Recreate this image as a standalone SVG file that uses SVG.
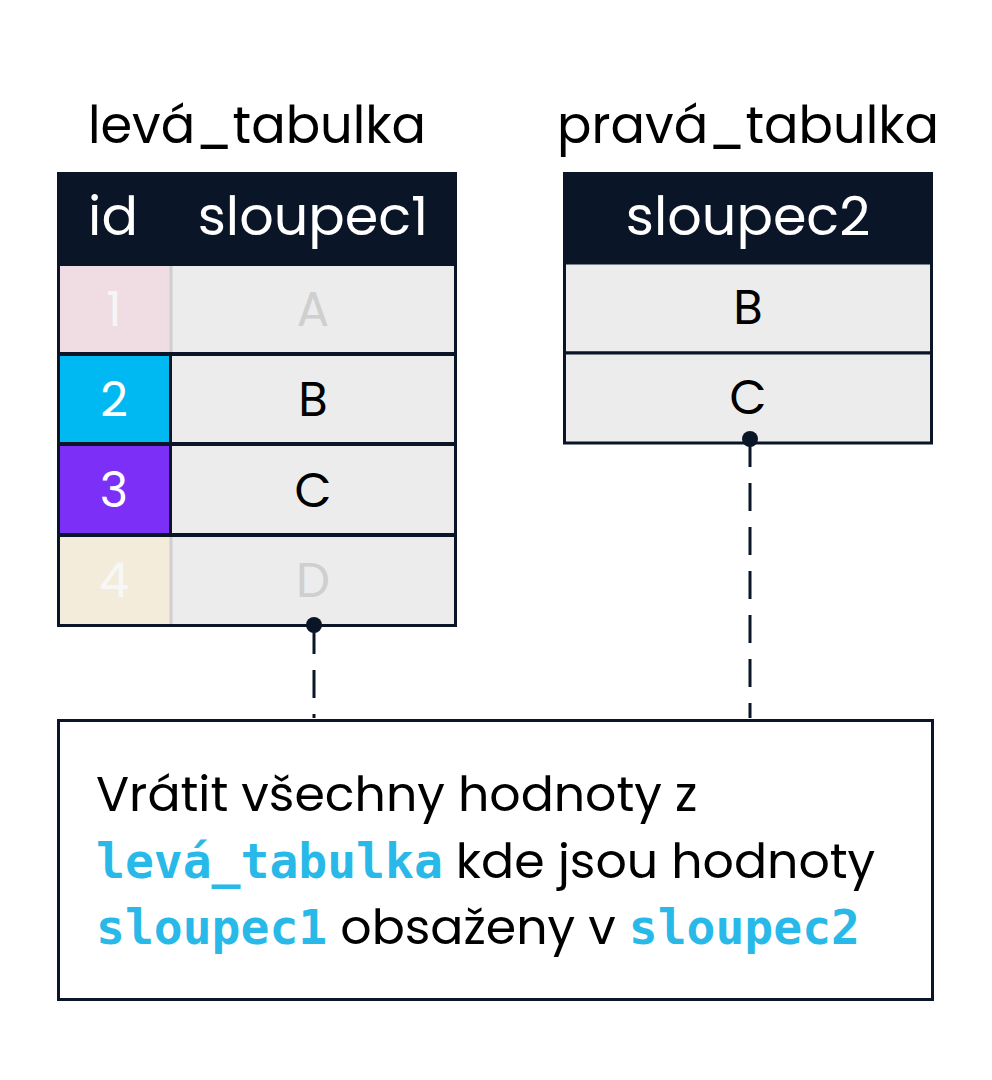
<svg xmlns="http://www.w3.org/2000/svg" width="992" height="1080" viewBox="0 0 992 1080">
<style>
.t{font-family:Poppins,"Noto Sans","Liberation Sans",sans-serif;text-anchor:middle}
.title{font-size:51px;fill:#000}
.hd{font-size:54px;fill:#fff}
.c{font-size:48px}
.cell{fill:#ececec;stroke:#0a1628;stroke-width:3}
.dim{fill:#cfcfcf}
.m{font-family:"DejaVu Sans Mono","Liberation Mono",monospace;font-weight:bold;fill:#29b9e8}
.b{font-family:Poppins,"Noto Sans","Liberation Sans",sans-serif;font-size:49px;fill:#000}
</style>
<rect width="992" height="1080" fill="#fff"/>
<g id="left_table">
<text class="t title" x="257" y="143">levá_tabulka</text>
<rect x="57" y="172" width="400" height="92" fill="#0a1628"/>
<text class="t hd" x="113" y="235">id</text>
<text class="t hd" x="313" y="235">sloupec1</text>
<rect x="57" y="263" width="400" height="364" fill="#0a1628"/>
<rect x="60" y="266" width="111" height="86" fill="#f0dde3"/>
<rect x="171" y="266" width="283" height="86" fill="#ececec"/>
<line x1="171" y1="266" x2="171" y2="352" stroke="#cfcfcf" stroke-width="3"/>
<text class="t c" x="114" y="326" fill="#f5f5f5">1</text>
<text class="t c dim" x="313" y="326">A</text>
<rect x="60" y="356" width="109" height="86" fill="#00b9f2"/>
<rect x="172" y="356" width="282" height="86" fill="#ececec"/>
<text class="t c" x="114" y="416" fill="#fff">2</text>
<text class="t c" x="313" y="416" fill="#000">B</text>
<rect x="60" y="446" width="109" height="87" fill="#7b2ff7"/>
<rect x="172" y="446" width="282" height="87" fill="#ececec"/>
<text class="t c" x="114" y="507" fill="#fff">3</text>
<text class="t c" x="313" y="507" fill="#000">C</text>
<rect x="60" y="537" width="111" height="87" fill="#f3ecda"/>
<rect x="171" y="537" width="283" height="87" fill="#ececec"/>
<line x1="171" y1="537" x2="171" y2="624" stroke="#cfcfcf" stroke-width="3"/>
<text class="t c" x="114" y="597" fill="#f7f7f7">4</text>
<text class="t c dim" x="313" y="597">D</text>
</g>
<g id="right_table">
<text class="t title" x="748" y="143">pravá_tabulka</text>
<rect x="563" y="172" width="370" height="92" fill="#0a1628"/>
<text class="t hd" x="748" y="235">sloupec2</text>
<rect class="cell" x="564.5" y="263" width="367" height="90"/>
<text class="t c" x="748" y="324" fill="#000">B</text>
<rect class="cell" x="564.5" y="353" width="367" height="90"/>
<text class="t c" x="748" y="414" fill="#000">C</text>
</g>
<g id="connectors" stroke="#0a1628" stroke-width="3" fill="none">
<line x1="314" y1="626" x2="314" y2="718" stroke-dasharray="28,16"/>
<line x1="750" y1="439" x2="750" y2="718" stroke-dasharray="28,16"/>
<circle cx="314" cy="625" r="8" fill="#0a1628" stroke="none"/>
<circle cx="750" cy="439" r="8" fill="#0a1628" stroke="none"/>
</g>
<g id="note">
<rect x="58.5" y="720.5" width="874" height="279" fill="#fff" stroke="#0a1628" stroke-width="3"/>
<text class="b" x="96" y="811">Vrátit všechny hodnoty z</text>
<text class="b" x="96" y="878"><tspan class="m" font-size="48">levá_tabulka</tspan> kde jsou hodnoty</text>
<text class="b" x="96" y="944"><tspan class="m" font-size="48">sloupec1</tspan> obsaženy v <tspan class="m" font-size="48">sloupec2</tspan></text>
</g>
</svg>
